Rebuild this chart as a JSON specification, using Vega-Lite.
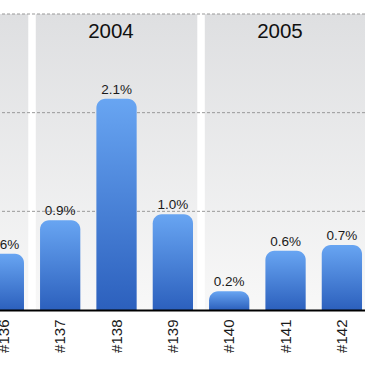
{
  "$schema": "https://vega.github.io/schema/vega-lite/v6.json",
  "width": 365,
  "height": 296,
  "autosize": {"type": "none"},
  "padding": {"top": 14, "left": 0, "right": 0, "bottom": 55},
  "background": "white",
  "config": {"view": {"stroke": null}, "font": "Liberation Sans"},
  "datasets": {
    "bars": [
      {"issue": "#136", "year": "2003", "value": 0.0057},
      {"issue": "#137", "year": "2004", "value": 0.0091},
      {"issue": "#138", "year": "2004", "value": 0.0214},
      {"issue": "#139", "year": "2004", "value": 0.0097},
      {"issue": "#140", "year": "2005", "value": 0.0019},
      {"issue": "#141", "year": "2005", "value": 0.0060},
      {"issue": "#142", "year": "2005", "value": 0.0066}
    ],
    "years": [
      {"year": "2004", "first": "#137"},
      {"year": "2005", "first": "#140"}
    ],
    "grid": [{"v": 0.01}, {"v": 0.02}, {"v": 0.03}]
  },
  "layer": [
    {
      "data": {"name": "bars"},
      "mark": {
        "type": "bar",
        "clip": true,
        "width": {"band": 1.45},
        "color": {"gradient": "linear", "x1": 0, "y1": 0, "x2": 0, "y2": 1,
          "stops": [{"offset": 0, "color": "#dedfe1"}, {"offset": 1, "color": "#f8f8f8"}]}
      },
      "encoding": {
        "x": {
          "field": "issue", "type": "nominal", "title": null,
          "scale": {
            "domain": ["#136", "#137", "#138", "#139", "#140", "#141", "#142"],
            "range": [-24.33, 370.05],
            "paddingInner": 0.285,
            "paddingOuter": 0.1425
          },
          "axis": {
            "zindex": 1,
            "domainColor": "#000000",
            "domainWidth": 2,
            "ticks": false,
            "labelAngle": -90,
            "labelPadding": 9,
            "labelFontSize": 15,
            "labelColor": "#1a1a1a",
            "labelFont": "Liberation Sans"
          }
        },
        "y": {"datum": 0.03, "type": "quantitative", "scale": {"domain": [0, 0.03], "nice": false, "zero": true}, "axis": null}
      }
    },
    {
      "data": {"name": "years"},
      "mark": {"type": "rule", "stroke": "white", "strokeWidth": 7.5},
      "encoding": {
        "x": {"field": "first", "type": "nominal", "bandPosition": -0.199, "title": null}
      }
    },
    {
      "data": {"name": "grid"},
      "mark": {"type": "rule", "stroke": "#999999", "strokeWidth": 1, "strokeDash": [3, 2]},
      "encoding": {"y": {"field": "v", "type": "quantitative"}}
    },
    {
      "data": {"name": "bars"},
      "mark": {
        "type": "bar",
        "cornerRadiusTopLeft": 9,
        "cornerRadiusTopRight": 9,
        "color": {"gradient": "linear", "x1": 0, "y1": 0, "x2": 0, "y2": 1,
          "stops": [{"offset": 0, "color": "#68a5f2"}, {"offset": 1, "color": "#2c60bd"}]}
      },
      "encoding": {
        "x": {"field": "issue", "type": "nominal", "title": null},
        "y": {"field": "value", "type": "quantitative", "stack": null}
      }
    },
    {
      "data": {"name": "bars"},
      "mark": {"type": "text", "dy": -5, "baseline": "alphabetic", "fontSize": 13.5, "color": "#1a1a1a", "font": "Liberation Sans"},
      "encoding": {
        "x": {"field": "issue", "type": "nominal", "title": null},
        "y": {"field": "value", "type": "quantitative"},
        "text": {"field": "value", "type": "quantitative", "format": ".1%"}
      }
    },
    {
      "data": {"name": "years"},
      "mark": {"type": "text", "dy": 24, "baseline": "alphabetic", "fontSize": 20.5, "color": "#111111", "font": "Liberation Sans"},
      "encoding": {
        "x": {"field": "first", "type": "nominal", "bandPosition": 1.76, "title": null},
        "y": {"datum": 0.03, "type": "quantitative"},
        "text": {"field": "year", "type": "nominal"}
      }
    }
  ]
}
